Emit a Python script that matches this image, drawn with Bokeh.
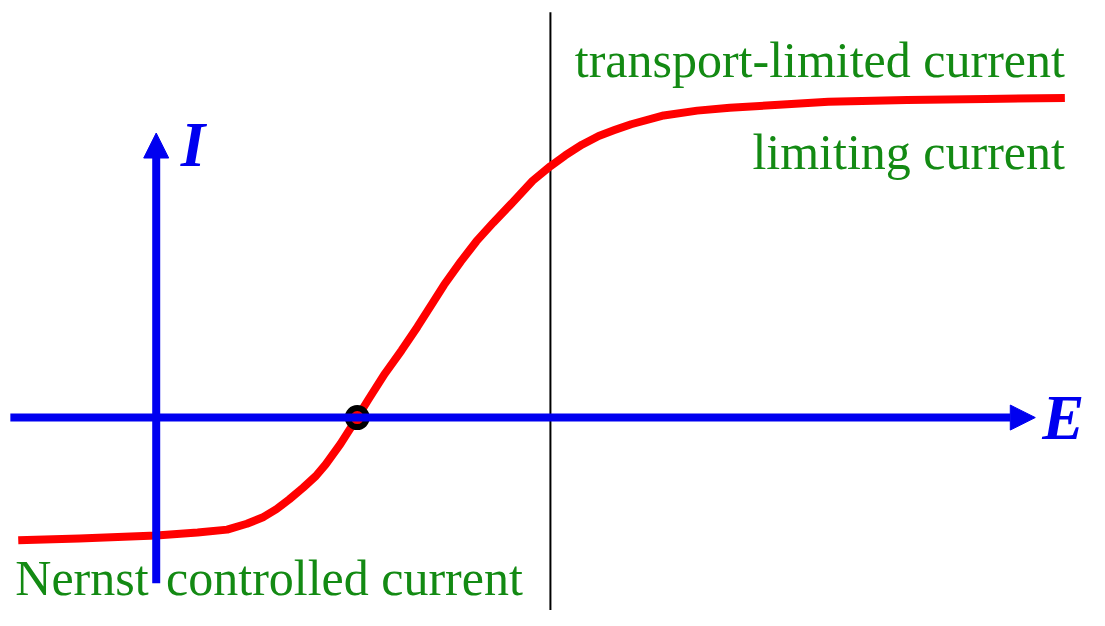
from bokeh.plotting import figure
from bokeh.models import Range1d, Arrow, NormalHead
from bokeh.core.properties import value
from bokeh.embed import file_html
from bokeh.resources import INLINE

# Curve (E potential, I current; axes cross at 0,0)
E_vals = [-1.40, -0.78, 0.00, 0.42, 0.72, 0.92, 1.09, 1.22, 1.35, 1.49, 1.62,
          1.72, 1.87, 2.04, 2.15, 2.32, 2.49, 2.65, 2.82, 2.92, 3.09, 3.25,
          3.42, 3.59, 3.82, 4.00, 4.15, 4.32, 4.49, 4.65, 4.82, 5.15, 5.49,
          5.82, 6.32, 6.82, 7.62, 8.42, 9.22]
I_vals = [-1.26, -1.24, -1.21, -1.18, -1.15, -1.09, -1.02, -0.94, -0.84, -0.72, -0.60,
          -0.48, -0.27, 0.00, 0.18, 0.45, 0.69, 0.93, 1.20, 1.36, 1.60, 1.81,
          2.00, 2.18, 2.43, 2.58, 2.69, 2.80, 2.89, 2.95, 3.01, 3.10, 3.15,
          3.18, 3.21, 3.24, 3.26, 3.27, 3.28]
E_eq = [2.04]
I_eq = [0.0]
E_limit = 4.0

BLUE = "#0000f0"
GREEN = "#138a13"
RED = "#ff0000"
SERIF = value("Liberation Serif")

p = figure(width=1089, height=610, output_backend="svg", toolbar_location=None,
           x_axis_type=None, y_axis_type=None,
           x_range=Range1d(-1.58, 9.47), y_range=Range1d(-1.98, 4.28),
           min_border=0, outline_line_color=None, background_fill_color="white")
p.grid.visible = False

# vertical black line
p.segment(x0=[E_limit], y0=[4.16], x1=[E_limit], y1=[-2.1], line_color="black", line_width=2)

# blue axes with arrows
p.add_layout(Arrow(end=NormalHead(size=25, fill_color=BLUE, line_color=BLUE, line_width=1),
                   x_start=-1.48, y_start=0, x_end=8.92, y_end=0,
                   line_color=BLUE, line_width=8))
p.add_layout(Arrow(end=NormalHead(size=25, fill_color=BLUE, line_color=BLUE, line_width=1),
                   x_start=0, y_start=-1.70, x_end=0, y_end=2.92,
                   line_color=BLUE, line_width=8))

# red curve
p.line(E_vals, I_vals, line_color=RED, line_width=8, line_join="round", line_cap="butt")

# equilibrium point
p.scatter(E_eq, I_eq, size=19, line_width=6, line_color="black", fill_color=RED)

# axis letters
p.text(x=[0.25], y=[2.80], text=["I"], text_font=SERIF, text_font_size="63px",
       text_font_style="bold italic", text_color=BLUE, text_baseline="alphabetic")
p.text(x=[8.99], y=[0.0], text=["E"], text_font=SERIF, text_font_size="63px",
       text_font_style="bold italic", text_color=BLUE, text_baseline="alphabetic")

# green labels
p.text(x=[9.22], y=[3.67], text=["transport-limited current"], text_font=SERIF,
       text_font_size="50px", text_color=GREEN, text_align="right", text_baseline="alphabetic")
p.text(x=[9.22], y=[2.73], text=["limiting current"], text_font=SERIF,
       text_font_size="50px", text_color=GREEN, text_align="right", text_baseline="alphabetic")
p.text(x=[-1.43], y=[-1.65], text=["Nernst"], text_font=SERIF,
       text_font_size="50px", text_color=GREEN, text_align="left", text_baseline="alphabetic")
p.text(x=[0.10], y=[-1.65], text=["controlled current"], text_font=SERIF,
       text_font_size="50px", text_color=GREEN, text_align="left", text_baseline="alphabetic")

open("out.html", "w").write(file_html(p, INLINE))
